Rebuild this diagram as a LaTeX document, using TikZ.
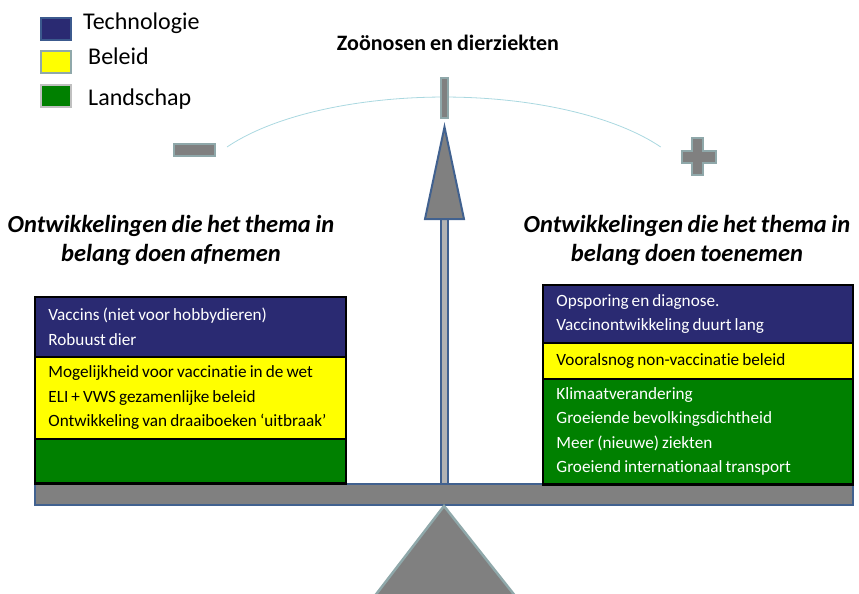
\documentclass[tikz,border=0pt]{standalone}
\usepackage{fontspec}
\setmainfont{Carlito}[Ligatures={TeX,NoCommon}]
\newfontfamily\bandfam{Carlito}[Ligatures={TeX,NoCommon}, WordSpace=0.8]
\usetikzlibrary{positioning}

\definecolor{techblue}{RGB}{42,42,114}
\definecolor{techedge}{RGB}{60,90,142}
\definecolor{beleidgeel}{RGB}{255,255,0}
\definecolor{landgroen}{RGB}{0,128,0}
\definecolor{balkgrijs}{RGB}{128,128,128}
\definecolor{balkrand}{RGB}{65,97,143}
\definecolor{tealrand}{RGB}{143,168,170}
\definecolor{boogblauw}{RGB}{170,216,224}
\definecolor{zilver}{RGB}{192,192,192}

\newcommand{\bandletter}{\bandfam\fontsize{17.2}{24.5}\selectfont}

\tikzset{
  band/.style={draw=black, line width=0.8pt, anchor=north west, inner xsep=13pt, inner ysep=0pt,
    text width=#1, align=flush left, font=\bandletter},
  kop/.style={anchor=base, inner sep=0pt, font=\fontsize{24.5}{28}\selectfont\bfseries\itshape},
  legenda/.style={anchor=base west, inner sep=0pt, font=\fontsize{24}{28}\selectfont},
  grijsvlak/.style={fill=balkgrijs, draw=tealrand, line width=2.5pt}
}

\begin{document}
\begin{tikzpicture}[x=1pt,y=-1pt]
  \useasboundingbox (0,0) rectangle (859,594);
  % legenda
  \foreach \kleur/\rand/\y/\naam/\dx/\by in {techblue/techedge/18/Technologie/83/30,
      beleidgeel/tealrand/51/Beleid/88/65, landgroen/zilver/85/Landschap/88/105}
  {
    \draw[fill=\kleur, draw=\rand, line width=2pt] (41,\y) rectangle (71,\y+22);
    \node[legenda] (leg-\naam) at (\dx,\by) {\naam};
  }
  \node[anchor=base, inner sep=0pt, font=\fontsize{22}{26}\selectfont\bfseries] (titel) at (448,51) {Zoönosen en dierziekten};
  % wijzer en boog
  \draw[boogblauw, line width=0.8pt] (227,147) arc[start angle=-149, end angle=-31, x radius=253, y radius=103];
  \draw[grijsvlak, line width=2pt] (441,78) rectangle (448,118);
  \draw[grijsvlak] (174,144) rectangle (215,156);
  \draw[grijsvlak] (692,138) -- (703,138) -- (703,151) -- (716,151) -- (716,163) -- (703,163) -- (703,175)
    -- (692,175) -- (692,163) -- (682,163) -- (682,151) -- (692,151) -- cycle;
  % koppen
  \node[kop] (links1) at (171,232) {Ontwikkelingen die het thema in};
  \node[kop] (links2) at (171,261) {belang doen afnemen};
  \node[kop] (rechts1) at (687,232) {Ontwikkelingen die het thema in};
  \node[kop] (rechts2) at (687,261) {belang doen toenemen};
  % weegschaal
  \node[draw=balkrand, fill=balkgrijs, line width=2pt, minimum width=818pt, minimum height=21pt, inner sep=0pt] (balk) at (444,494.5) {};
  \draw[grijsvlak] (balk.south) -- (374,597) -- (516,597) -- cycle;
  \draw[fill=balkgrijs!60, draw=balkrand, line width=1.5pt] (441,219) rectangle (448,484);
  \draw[fill=balkgrijs, draw=balkrand, line width=2pt] (444.5,127) -- (464,219) -- (425,219) -- cycle;
  % linker bak
  \node[band=284pt, fill=techblue, text=white, minimum height=59pt] (lt) at (35,297) {Vaccins (niet voor hobbydieren)\\Robuust dier};
  \node[band=284pt, fill=beleidgeel, minimum height=81pt] (lb) at (lt.south west) {Mogelijkheid voor vaccinatie in de wet\\ELI + VWS gezamenlijke beleid\\Ontwikkeling van draaiboeken ‘uitbraak’};
  \node[band=284pt, fill=landgroen, minimum height=44pt] (ll) at (lb.south west) {};
  \draw[line width=2.5pt] (lt.north west) rectangle (ll.south east);
  % rechter bak
  \node[band=283pt, fill=techblue, text=white, minimum height=57pt] (rt) at (543,285) {Opsporing en diagnose.\\Vaccinontwikkeling duurt lang};
  \node[band=283pt, fill=beleidgeel, minimum height=35pt] (rb) at (rt.south west) {Vooralsnog non-vaccinatie beleid};
  \node[band=283pt, fill=landgroen, text=white, minimum height=105pt] (rl) at (rb.south west) {Klimaatverandering\\Groeiende bevolkingsdichtheid\\Meer (nieuwe) ziekten\\Groeiend internationaal transport};
  \draw[line width=2.5pt] (rt.north west) rectangle (rl.south east);
\end{tikzpicture}
\end{document}
